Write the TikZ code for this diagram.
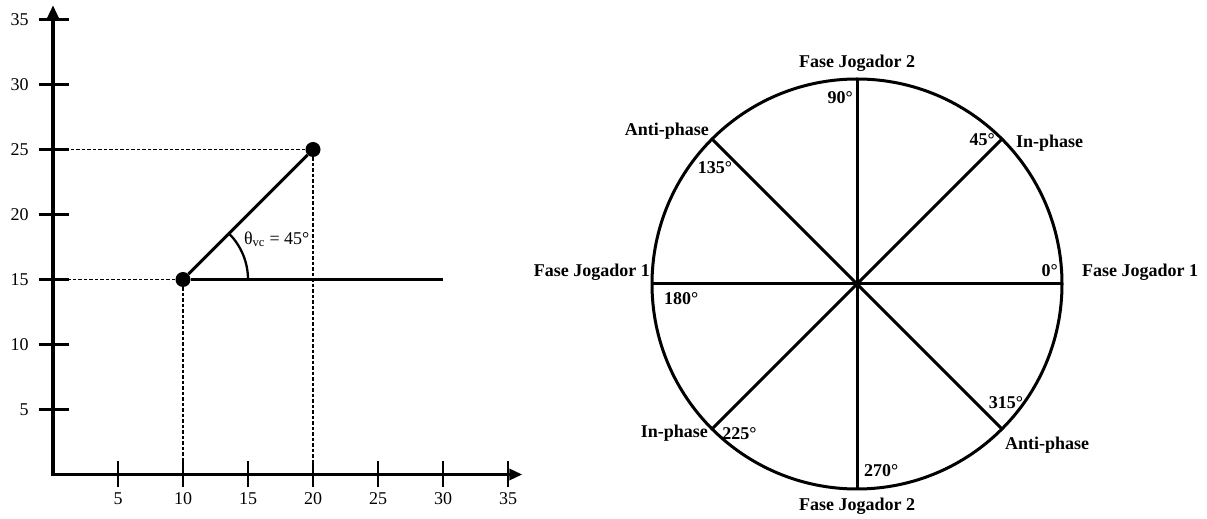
\documentclass[tikz,border=0pt]{standalone}
\usepackage{fontspec}
\setmainfont{Liberation Serif}
\usetikzlibrary{arrows.meta,calc}
\tikzset{
  axisline/.style={line width=3.2pt,line join=miter,{Triangle[length=13pt,width=11pt]}-{Triangle[length=13pt,width=11pt]}},
  tickmark/.style={line width=2.3pt},
  guide/.style={line width=1.3pt,dash pattern=on 3.5pt off 2pt},
  seg/.style={line width=3pt},
  dot/.style={circle,fill,inner sep=0pt,minimum size=15pt},
  ticklbl/.style={font=\fontsize{18}{21}\selectfont,inner sep=2pt},
  phaselbl/.style={font=\fontsize{18}{21}\selectfont\bfseries,inner sep=1pt},
}
\begin{document}
\begin{tikzpicture}[x=1pt,y=1pt]
\useasboundingbox (0,0) rectangle (1207,519);
% left: angle between the two points
\begin{scope}[shift={(53pt,44.5pt)},x=13pt,y=13pt]
\coordinate (O) at (0,0);
\coordinate (xend) at (36.1,0);
\coordinate (yend) at (0,36.1);
\draw[axisline] (yend) -- (O) -- (xend);
\foreach \v in {5,10,...,35} {
  \draw[tickmark] (\v,-1) -- (\v,1);
  \node[ticklbl,anchor=north] (xl\v) at (\v,-1.25) {\v};
  \draw[tickmark] (-1.1,\v) -- (1.2,\v);
  \node[ticklbl,anchor=east] (yl\v) at (-1.7,\v) {\v};
}
\node[dot] (p1) at (10,15) {};
\node[dot] (p2) at (20,25) {};
\coordinate (hend) at (30,15);
\draw[guide] (p1) -- (p1 -| O);
\draw[guide] (p1) -- (p1 |- O);
\draw[guide] (p2) -- (p2 -| O);
\draw[guide] (p2) -- (p2 |- O);
\draw[seg] (p1) -- (hend);
\draw[seg] (p1) -- (p2);
\draw[line width=2.3pt] ([xshift=65pt]p1.center) arc[start angle=0,end angle=45,radius=65pt];
\node[ticklbl,anchor=west,inner sep=1pt] (theta) at (14.6,18.1) {θ\textsubscript{vc} = 45°};
\end{scope}
% right: phase circle
\coordinate (c) at (857,235);
\draw[seg] (c) circle[radius=205];
\foreach \a in {0,45,...,315} \coordinate (a\a) at ($(c)+(\a:205)$);
\draw[seg] (a0) -- (a180);
\draw[seg] (a45) -- (a225);
\draw[seg] (a90) -- (a270);
\draw[seg] (a135) -- (a315);
\node[phaselbl,anchor=south] (ftop) at ([yshift=6pt]a90) {Fase Jogador 2};
\node[phaselbl,anchor=north] (fbot) at ([yshift=-8pt]a270) {Fase Jogador 2};
\node[phaselbl,anchor=base east] (fleft) at ([xshift=-1pt,yshift=7pt]a180) {Fase Jogador 1};
\node[phaselbl,anchor=base west] (fright) at ([xshift=19pt,yshift=7pt]a0) {Fase Jogador 1};
\node[phaselbl,anchor=base east] (d0) at ([xshift=-3pt,yshift=7pt]a0) {0°};
\node[phaselbl,anchor=north west] (d180) at ([xshift=11pt,yshift=-7pt]a180) {180°};
\node[phaselbl,anchor=north east] (d90) at ([xshift=-3pt,yshift=-11pt]a90) {90°};
\node[phaselbl,anchor=south west] (d270) at ([xshift=6pt,yshift=11pt]a270) {270°};
\node[phaselbl,anchor=east] (d45) at ([xshift=-6pt,yshift=-1pt]a45) {45°};
\node[phaselbl,anchor=west] (in45) at ([xshift=13pt,yshift=-4pt]a45) {In-phase};
\node[phaselbl,anchor=base east] (anti135) at ([xshift=-2pt,yshift=4pt]a135) {Anti-phase};
\node[phaselbl,anchor=north] (d135) at ([xshift=3pt,yshift=-21pt]a135) {135°};
\node[phaselbl,anchor=east] (in225) at ([xshift=-3pt,yshift=-4pt]a225) {In-phase};
\node[phaselbl,anchor=west] (d225) at ([xshift=9pt,yshift=-5pt]a225) {225°};
\node[phaselbl,anchor=south] (d315) at ([xshift=4pt,yshift=19pt]a315) {315°};
\node[phaselbl,anchor=north west] (anti315) at ([xshift=2pt,yshift=-7pt]a315) {Anti-phase};
\end{tikzpicture}
\end{document}
